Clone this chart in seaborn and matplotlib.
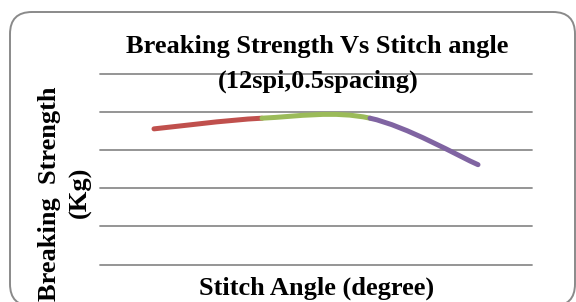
"""Breaking strength vs stitch angle (12 spi, 0.5 spacing) - Excel style smoothed line."""

import matplotlib

matplotlib.use("Agg")
import matplotlib.pyplot as plt
import numpy as np
import seaborn as sns
from matplotlib.patches import FancyBboxPatch, PathPatch
from matplotlib.path import Path
from matplotlib.transforms import IdentityTransform

# --- data (axis carries no tick labels) ---
angle_pos = [1, 2, 3, 4]
strength_kg = [17.8, 19.2, 19.2, 13.1]
segment_colors = ["#C0504D", "#9BBB59", "#8064A2"]
grid_levels = [0, 5, 10, 15, 20, 25]

title_lines = ["Breaking Strength Vs Stitch angle", "(12spi,0.5spacing)"]
xlabel = "Stitch Angle (degree)"
ylabel_lines = ["Breaking  Strength", "(Kg)"]

sns.set_theme(style="white")
plt.rcParams["font.family"] = ["Liberation Serif", "DejaVu Serif"]

W, H, DPI = 576, 302, 100
fig = plt.figure(figsize=(W / DPI, H / DPI), dpi=DPI)
ax = fig.add_axes([100 / W, (H - 264.5) / H, 432 / W, (264.5 - 74) / H])


def bezier_segment(pts, i):
    """Excel-like smoothing: cubic bezier between pts[i] and pts[i+1]."""
    p0 = pts[i - 1] if i > 0 else pts[i]
    p1, p2 = pts[i], pts[i + 1]
    p3 = pts[i + 2] if i + 2 < len(pts) else pts[i + 1]
    c1 = p1 + (p2 - p0) / 6
    c2 = p2 - (p3 - p1) / 6
    return Path([p1, c1, c2, p2], [Path.MOVETO, Path.CURVE4, Path.CURVE4, Path.CURVE4])


pts = np.column_stack([angle_pos, strength_kg]).astype(float)
for i, col in enumerate(segment_colors):
    ax.add_patch(PathPatch(bezier_segment(pts, i), facecolor="none", edgecolor=col,
                           lw=3.6, capstyle="round", joinstyle="round", zorder=3))

ax.set_xlim(0.5, 4.5)
ax.set_ylim(grid_levels[0], grid_levels[-1])
ax.set_yticks(grid_levels)
ax.set_xticks([])
ax.tick_params(left=False, labelleft=False, bottom=False, labelbottom=False)
ax.yaxis.grid(True, color="#8c8c8c", lw=1.3)
for gl in ax.get_ygridlines():
    gl.set_clip_on(False)
sns.despine(ax=ax, left=True, bottom=True)
ax.patch.set_alpha(0)

font = dict(fontsize=19, fontweight="bold", color="black")
fig.text(317.5 / W, 1 - 53.3 / H, title_lines[0], ha="center", va="baseline", **font)
fig.text(318 / W, 1 - 87.7 / H, title_lines[1], ha="center", va="baseline", **font)
fig.text(316.5 / W, 1 - 295 / H, xlabel, ha="center", va="baseline", **font)
fig.text(50 / W, 1 - 193.5 / H, ylabel_lines[0], rotation=90, ha="center", va="center", **font)
fig.text(80 / W, 1 - 192.5 / H, ylabel_lines[1], rotation=90, ha="center", va="center", **font)

# rounded chart-area border (runs off the bottom of the image)
fig.add_artist(FancyBboxPatch((10, -4), 565, 294,
                              boxstyle="round,pad=0,rounding_size=22",
                              transform=IdentityTransform(), fill=False,
                              ec="#8a8a8a", lw=1.4))

fig.savefig("out.png", dpi=DPI)
plt.close(fig)
